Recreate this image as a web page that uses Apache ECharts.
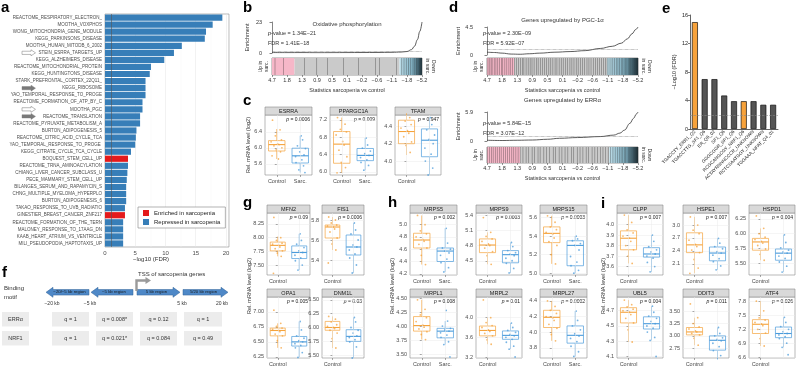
<!DOCTYPE html>
<html>
<head>
<meta charset="utf-8">
<script src="https://cdn.jsdelivr.net/npm/echarts@6/dist/echarts.min.js"></script>
<style>
html,body{margin:0;padding:0;background:#fff;}
#main{width:796px;height:368px;}
</style>
</head>
<body>
<div id="main"></div>
<script>
// ---- panel a : gene set enrichment ----
var setNames = ['REACTOME_RESPIRATORY_ELECTRON_','MOOTHA_VOXPHOS','WONG_MITOCHONDRIA_GENE_MODULE','KEGG_PARKINSONS_DISEASE',
  'MOOTHA_HUMAN_MITODB_6_2002','STEIN_ESRRA_TARGETS_UP','KEGG_ALZHEIMERS_DISEASE','REACTOME_MITOCHONDRIAL_PROTEIN',
  'KEGG_HUNTINGTONS_DISEASE','STARK_PREFRONTAL_CORTEX_22Q11_','KEGG_RIBOSOME','YAO_TEMPORAL_RESPONSE_TO_PROGE',
  'REACTOME_FORMATION_OF_ATP_BY_C','MOOTHA_PGC','REACTOME_TRANSLATION','REACTOME_PYRUVATE_METABOLISM_A',
  'BURTON_ADIPOGENESIS_5','REACTOME_CITRIC_ACID_CYCLE_TCA','YAO_TEMPORAL_RESPONSE_TO_PROGE ','KEGG_CITRATE_CYCLE_TCA_CYCLE',
  'BOQUEST_STEM_CELL_UP','REACTOME_TRNA_AMINOACYLATION','CHIANG_LIVER_CANCER_SUBCLASS_U','PECE_MAMMARY_STEM_CELL_UP',
  'BILANGES_SERUM_AND_RAPAMYCIN_S','CHNG_MULTIPLE_MYELOMA_HYPERPLO','BURTON_ADIPOGENESIS_6','TAKAO_RESPONSE_TO_UVB_RADIATIO',
  'GINESTIER_BREAST_CANCER_ZNF217','REACTOME_FORMATION_OF_THE_TERN','MALONEY_RESPONSE_TO_17AAG_DN','KAAB_HEART_ATRIUM_VS_VENTRICLE',
  'MILI_PSEUDOPODIA_HAPTOTAXIS_UP'];
var setFdr = [19.4,17.8,16.7,16.5,12.7,11.4,9.8,7.6,7.4,6.7,6.7,6.7,6.2,6.2,5.8,5.8,5.2,5.1,5.0,4.3,
  3.8,3.8,3.7,3.6,3.5,3.5,3.5,3.3,3.3,3.0,3.0,3.0,3.0];
var setDir = ['dn','dn','dn','dn','dn','dn','dn','dn','dn','dn','dn','dn','dn','dn','dn','dn','dn','dn','dn','dn',
  'up','dn','dn','dn','dn','dn','dn','dn','up','dn','dn','dn','dn'];
var openArrowRows = [5, 13];
var fillArrowRows = [10, 14];

// ---- panels b, d : barcode plots ----
var statLabels = ['4.7','1.8','1.3','0.9','0.5','0.1','\u22120.2','\u22120.6','\u22121.1','\u22121.8','\u22125.2'];
var oxphosWorm = [[0,0.3],[10,0.25],[20,0.3],[30,0.2],[40,0.25],[50,0.3],[60,0.35],[70,0.4],[80,0.5],[86,0.7],
  [90,1.1],[93,2.5],[95,5],[97,10],[98.5,16],[100,23]];
var oxphosGenes = [2.0,7.6,21.6,29.8,36.9,47.6,57.6,69.1,71.6,83.1,86.5,88,89.5,91,92.5,94,95.2,96.3,97.3,98.2,99,99.6];
var pgcWorm = [[0,0.45],[5,0.4],[10,0.3],[16,0.15],[22,0.12],[28,0.2],[35,0.3],[45,0.45],[55,0.55],[65,0.7],
  [75,1.05],[83,1.4],[89,1.9],[93,2.6],[96,3.4],[98.5,4.1],[100,4.5]];
var pgcGenes = [0.6,1.5,2.7,3.4,4.8,5.9,7.1,8.3,9.6,10.4,11.8,13.1,14.5,15.7,16.9,18.2,19.6,20.8,22.1,23.5,24.4,25.9,
  27.3,28.6,29.8,31.2,32.7,33.9,35.4,36.8,38.1,39.3,40.9,42.2,43.6,45.1,46.3,47.8,49.2,50.5,52.1,53.4,54.9,56.2,57.6,
  59.1,60.4,61.9,63.3,64.6,66.2,67.5,68.9,70.4,71.8,73.1,74.5,75.9,77.2,78.4,79.6,80.8,82.1,83.3,84.4,85.6,86.7,87.8,
  88.9,89.9,90.8,91.7,92.6,93.5,94.3,95.1,95.9,96.6,97.3,97.9,98.5,99.0,99.5,99.9];
var errWorm = [[0,0.15],[10,0.1],[20,0.15],[30,0.2],[40,0.35],[48,0.55],[60,0.7],[75,0.9],[84,1.2],[88,1.6],
  [91,2.2],[94.7,3.6],[97,4.6],[99,5.5],[100,5.9]];
var errGenes = [0.4,1.6,2.9,4.1,5.5,6.8,8.2,9.4,10.9,12.3,13.6,15.0,16.4,17.7,19.1,20.6,22.0,23.8,25.9,27.6,29.9,31.5,
  33.8,35.2,37.6,39.5,41.3,43.9,45.4,47.8,49.6,51.7,53.5,55.9,57.4,59.8,61.6,63.5,65.7,67.3,69.6,71.4,73.2,75.1,76.8,
  78.5,80.3,81.9,83.4,84.9,86.3,87.6,88.8,89.9,90.9,91.8,92.7,93.6,94.4,95.2,95.9,96.6,97.2,97.8,98.3,98.8,99.2,99.6,99.9];

// ---- panel e : motifs ----
var motifNames = ['TGACCTY_ERR1_Q2','TGACCTTG_SF1_Q6','ER_Q6_02','SF1_Q6','GGGCGGR_SP1_Q6','RCGCANGCGY_NRF1_Q6',
  'ACTAYRNNNCCCR_UNKNOWN','RCTCSAATGGY_UNKNOWN','TGGAAA_NFAT_Q4_01'];
var motifFdr = [15.0,7.0,7.0,4.7,3.9,3.9,3.9,3.4,3.4];
var motifHighlight = [1,0,0,0,0,1,0,0,0];

// ---- panel f : promoter regions ----
var regionNames = ['\u221220/\u22125 kb region','\u22125 kb region','5 kb region','5/20 kb region'];
var kbLabels = ['\u221220 kb','\u22125 kb','5 kb','20 kb'];
var motifRows = ['ERR\u03b1','NRF1'];
var qERR = ['q = 1','q = 0.008*','q = 0.12','q = 1'];
var qNRF1 = ['q = 1','q = 0.021*','q = 0.084','q = 0.49'];

// ---- panels c, g, h, i : boxplots [min, Q1, median, Q3, max] ----
var groups = ['Control','Sarc.'];
var geneNames = ['ESRRA','PPARGC1A','TFAM','MFN2','FIS1','OPA1','DNM1L','MRPS5','MRPS9','MRPS15','MRPL1','MRPL2','MRPL27',
  'CLPP','HSPE1','HSPD1','UBL5','DDIT3','ATF4'];
var geneP = ['0.0006','0.009','0.947','0.09','0.0006','0.005','0.03','0.002','0.0003','0.0003','0.008','0.01','0.0002',
  '0.007','0.007','0.004','0.004','0.011','0.026'];
var boxControl = [[5.72,5.92,6.08,6.18,6.47],[5.98,6.2,6.64,6.93,7.25],[4.07,4.2,4.34,4.47,4.55],[7.66,7.76,7.86,7.92,8.02],
  [5.5,5.62,5.73,5.75,5.83],[6.4,6.6,6.69,6.73,6.81],[5.63,5.95,6.0,6.11,6.2],[4.35,4.62,4.75,4.86,5.15],
  [4.43,4.66,4.81,4.93,5.06],[5.1,5.33,5.43,5.5,5.62],[3.76,3.91,4.01,4.17,4.47],[3.46,3.63,3.74,3.83,4.0],
  [3.89,4.06,4.19,4.28,4.4],[3.63,3.76,3.87,3.94,4.09],[1.88,2.36,2.54,2.82,3.19],[5.55,5.72,5.86,5.92,6.09],
  [4.29,4.54,4.68,4.74,4.84],[2.81,3.02,3.08,3.17,3.37],[6.84,7.11,7.31,7.41,7.81]];
var boxSarc = [[5.38,5.62,5.8,5.99,6.3],[6.04,6.26,6.38,6.54,6.78],[3.84,4.05,4.24,4.37,4.5],[7.41,7.62,7.73,7.85,8.07],
  [5.27,5.45,5.53,5.65,5.77],[6.24,6.43,6.5,6.59,6.84],[5.45,5.75,5.84,5.96,6.18],[4.23,4.4,4.57,4.62,4.94],
  [4.26,4.46,4.62,4.7,4.86],[5.0,5.08,5.3,5.35,5.4],[3.67,3.79,3.91,3.96,4.09],[3.36,3.56,3.64,3.73,3.89],
  [3.69,3.86,3.96,4.08,4.27],[3.55,3.69,3.72,3.78,3.9],[1.96,2.17,2.35,2.49,2.69],[5.35,5.55,5.67,5.74,5.98],
  [4.31,4.46,4.53,4.62,4.76],[2.52,2.71,2.91,3.0,3.17],[6.81,7.02,7.11,7.25,7.46]];
var ptsControl = [
  [6.69,6.45,6.3,6.2,6.15,6.1,6.08,6.05,6.0,5.95,5.9,5.8,5.72],
  [7.25,7.1,6.98,6.92,6.85,6.7,6.62,6.5,6.35,6.22,6.1,5.98],
  [4.55,4.5,4.46,4.42,4.38,4.35,4.32,4.28,4.22,4.18,4.1],
  [8.37,8.0,7.95,7.9,7.88,7.86,7.83,7.8,7.76,7.72,7.66,7.35],
  [5.83,5.8,5.77,5.75,5.74,5.73,5.71,5.68,5.62,5.56,5.5,5.37],
  [7.03,6.81,6.76,6.73,6.71,6.69,6.67,6.63,6.6,6.52,6.4],
  [6.2,6.15,6.1,6.05,6.02,6.0,5.98,5.95,5.9,5.8,5.63],
  [5.15,5.0,4.9,4.85,4.8,4.76,4.73,4.68,4.62,4.5,4.35],
  [5.35,5.06,4.98,4.93,4.88,4.83,4.8,4.75,4.68,4.6,4.43],
  [5.62,5.55,5.5,5.47,5.44,5.42,5.38,5.34,5.3,5.2,5.1],
  [4.47,4.3,4.2,4.15,4.08,4.02,3.98,3.95,3.9,3.85,3.76],
  [4.36,4.0,3.9,3.84,3.8,3.75,3.72,3.68,3.63,3.55,3.46],
  [4.4,4.33,4.28,4.24,4.2,4.18,4.15,4.1,4.05,3.97,3.89],
  [4.09,4.02,3.95,3.92,3.89,3.87,3.84,3.8,3.76,3.7,3.63],
  [3.19,3.0,2.88,2.8,2.65,2.55,2.5,2.42,2.36,2.2,2.0,1.88],
  [6.3,6.09,6.0,5.94,5.9,5.87,5.84,5.8,5.74,5.65,5.55],
  [4.84,4.78,4.75,4.72,4.7,4.68,4.65,4.6,4.54,4.45,4.29],
  [3.65,3.37,3.25,3.18,3.14,3.1,3.08,3.05,3.02,2.95,2.81],
  [7.81,7.6,7.45,7.4,7.35,7.32,7.28,7.2,7.12,7.0,6.84]];
var ptsSarc = [
  [6.3,6.2,6.05,5.98,5.9,5.82,5.78,5.7,5.63,5.55,5.45,5.38],
  [6.78,6.62,6.55,6.48,6.42,6.38,6.33,6.28,6.22,6.15,6.04],
  [4.5,4.42,4.36,4.3,4.25,4.2,4.15,4.08,4.0,3.92,3.84],
  [8.07,7.95,7.88,7.82,7.76,7.73,7.68,7.63,7.58,7.5,7.41],
  [5.77,5.7,5.66,5.6,5.55,5.53,5.5,5.46,5.42,5.35,5.27],
  [6.84,6.7,6.6,6.56,6.52,6.5,6.47,6.44,6.4,6.32,6.24],
  [6.18,6.1,6.0,5.95,5.9,5.85,5.82,5.78,5.74,5.65,5.45],
  [4.94,4.7,4.62,4.6,4.57,4.54,4.5,4.44,4.38,4.3,4.23],
  [4.86,4.78,4.7,4.66,4.63,4.6,4.55,4.5,4.45,4.35,4.26],
  [5.4,5.37,5.35,5.32,5.3,5.25,5.18,5.12,5.08,5.03,5.0],
  [4.28,4.09,4.0,3.96,3.93,3.91,3.88,3.84,3.8,3.72,3.67,3.45],
  [3.89,3.8,3.74,3.7,3.66,3.63,3.6,3.56,3.5,3.42,3.36,3.2],
  [4.27,4.15,4.08,4.03,3.98,3.95,3.92,3.88,3.82,3.75,3.69],
  [3.9,3.84,3.79,3.76,3.74,3.72,3.7,3.68,3.64,3.6,3.55],
  [2.69,2.58,2.5,2.45,2.38,2.35,2.3,2.22,2.15,2.05,1.96],
  [5.98,5.85,5.76,5.72,5.69,5.67,5.62,5.58,5.52,5.45,5.35],
  [4.76,4.68,4.63,4.6,4.56,4.53,4.5,4.47,4.42,4.35,4.31,4.1],
  [3.17,3.05,3.0,2.96,2.93,2.9,2.85,2.78,2.7,2.6,2.52],
  [7.46,7.35,7.26,7.2,7.15,7.11,7.08,7.04,7.0,6.9,6.81,6.65]];

// layout of the small multiples (strip top y, plot height, axis range)
var boxLayout = {
  ESRRA:   {x:265, y:107, w:47, h:60, min:5.32, max:6.82, ticks:[5.6,6.0,6.4], dec:1},
  PPARGC1A:{x:330, y:107, w:47, h:60, min:5.93, max:7.31, ticks:[6.0,6.4,6.8,7.2], dec:1},
  TFAM:    {x:395, y:107, w:46, h:60, min:3.84, max:4.53, ticks:[4.0,4.2,4.4], dec:1},
  MFN2:    {x:267, y:205, w:43, h:62, min:7.32, max:8.45, ticks:[7.5,7.75,8.0,8.25], dec:2},
  FIS1:    {x:322, y:205, w:42, h:62, min:5.25, max:5.87, ticks:[5.4,5.6,5.8], dec:1},
  OPA1:    {x:267, y:289, w:43, h:61, min:6.23, max:7.25, ticks:[6.25,6.5,6.75,7.0], dec:2},
  DNM1L:   {x:322, y:289, w:42, h:61, min:5.45, max:6.55, ticks:[5.5,5.75,6.0,6.25,6.5], dec:2},
  MRPS5:   {x:410, y:205, w:47, h:62, min:4.18, max:5.19, ticks:[4.2,4.4,4.6,4.8,5.0], dec:1},
  MRPS9:   {x:476, y:205, w:46, h:62, min:4.22, max:5.44, ticks:[4.5,4.8,5.1,5.4], dec:1},
  MRPS15:  {x:540, y:205, w:47, h:62, min:4.98, max:5.65, ticks:[5.0,5.2,5.4,5.6], dec:1},
  MRPL1:   {x:410, y:289, w:47, h:61, min:3.43, max:4.52, ticks:[3.5,3.75,4.0,4.25,4.5], dec:2},
  MRPL2:   {x:476, y:289, w:46, h:61, min:3.18, max:4.42, ticks:[3.2,3.6,4.0], dec:1},
  MRPL27:  {x:540, y:289, w:47, h:61, min:3.67, max:4.45, ticks:[3.8,4.0,4.2,4.4], dec:1},
  CLPP:    {x:617, y:205, w:46, h:62, min:3.52, max:4.11, ticks:[3.6,3.7,3.8,3.9,4.0], dec:1},
  HSPE1:   {x:683, y:205, w:46, h:62, min:1.84, max:3.28, ticks:[2.1,2.4,2.7,3.0], dec:1},
  HSPD1:   {x:749, y:205, w:46, h:62, min:5.3, max:6.35, ticks:[5.5,5.75,6.0,6.25], dec:2},
  UBL5:    {x:617, y:289, w:46, h:61, min:4.08, max:4.88, ticks:[4.1,4.3,4.5,4.7], dec:1},
  DDIT3:   {x:683, y:289, w:46, h:61, min:2.55, max:3.79, ticks:[2.75,3.0,3.25,3.5], dec:2},
  ATF4:    {x:749, y:289, w:46, h:61, min:6.58, max:7.9, ticks:[6.6,6.9,7.2,7.5,7.8], dec:1}
};
var JIT = [-0.18,0.14,-0.06,0.2,-0.24,0.04,0.1,-0.12,0.22,-0.02,0.16,-0.2,0.07];

var FONT = 'Liberation Sans';
var ORANGE = '#F5A33C', BLUE = '#4A9BDB';
var chart = echarts.init(document.getElementById('main'));
var grids = [], xAxes = [], yAxes = [], series = [], graphics = [];

function addText(x, y, s, o) {
  var st = {text: s, fontSize: 6, fontFamily: FONT, fill: '#222', align: 'left', verticalAlign: 'middle'};
  var rot = 0;
  for (var k in (o || {})) { if (k === 'rotation') rot = o[k]; else st[k] = o[k]; }
  graphics.push({type: 'text', x: x, y: y, rotation: rot, silent: true, style: st});
}
function italicP(x, y, rest, o) {
  var st = Object.assign({rich: {i: {fontStyle: 'italic', fontFamily: FONT, fontSize: (o && o.fontSize) || 5.5, fill: '#222'}}}, o || {});
  addText(x, y, '{i|p}' + rest, st);
}

// ggplot-like box: no whisker caps, thicker median
function renderBox(params, api) {
  var x = api.value(0);
  var bw = api.size([1, 0])[0] * 0.7;
  var pMin = api.coord([x, api.value(1)]), pQ1 = api.coord([x, api.value(2)]), pMed = api.coord([x, api.value(3)]);
  var pQ3 = api.coord([x, api.value(4)]), pMax = api.coord([x, api.value(5)]);
  var col = params.dataIndex === 0 ? ORANGE : BLUE;
  var cx = pMin[0];
  return {type: 'group', children: [
    {type: 'line', shape: {x1: cx, y1: pMin[1], x2: cx, y2: pQ1[1]}, style: {stroke: col, lineWidth: 0.7}},
    {type: 'line', shape: {x1: cx, y1: pQ3[1], x2: cx, y2: pMax[1]}, style: {stroke: col, lineWidth: 0.7}},
    {type: 'rect', shape: {x: cx - bw / 2, y: pQ3[1], width: bw, height: pQ1[1] - pQ3[1]},
      style: {fill: 'rgba(255,255,255,0)', stroke: col, lineWidth: 0.7}},
    {type: 'line', shape: {x1: cx - bw / 2, y1: pMed[1], x2: cx + bw / 2, y2: pMed[1]}, style: {stroke: col, lineWidth: 1.1}}
  ]};
}

// panel letters
[['a',1,0],['b',243,0],['c',243,93],['d',449,0],['e',662,1],['f',2,265],['g',243,195],['h',388,195],['i',601,196]]
  .forEach(function (l) { addText(l[1], l[2], l[0], {fontSize: 15, fontWeight: 'bold', verticalAlign: 'top', fill: '#000'}); });

// ----- panel a -----
grids.push({left: 105, top: 14, width: 124, height: 233, show: true, borderColor: '#8c8c8c', borderWidth: 0.6, backgroundColor: '#fff'});
xAxes.push({gridIndex: 0, type: 'value', min: 0, max: 20.5, interval: 5,
  axisLine: {show: false}, axisTick: {length: 2, lineStyle: {color: '#555', width: 0.5}},
  axisLabel: {fontSize: 6, color: '#4d4d4d', margin: 3, showMaxLabel: false},
  splitLine: {lineStyle: {color: '#e4e4e4', width: 0.5}},
  minorTick: {show: false, splitNumber: 2}, minorSplitLine: {show: true, lineStyle: {color: '#f2f2f2', width: 0.4}}});
yAxes.push({gridIndex: 0, type: 'category', data: setNames, inverse: true,
  axisLine: {show: false}, axisTick: {length: 2, alignWithLabel: true, lineStyle: {color: '#555', width: 0.5}},
  axisLabel: {fontSize: 4.5, color: '#4d4d4d', margin: 3, interval: 0}});
series.push({type: 'bar', name: 'Enriched in sarcopenia', xAxisIndex: 0, yAxisIndex: 0, stack: 'a', barCategoryGap: '12%',
  data: setFdr.map(function (v, i) { return setDir[i] === 'up' ? v : '-'; }), itemStyle: {color: '#E41A1C'}});
series.push({type: 'bar', name: 'Repressed in sarcopenia', xAxisIndex: 0, yAxisIndex: 0, stack: 'a', barCategoryGap: '12%',
  data: setFdr.map(function (v, i) { return setDir[i] === 'dn' ? v : '-'; }), itemStyle: {color: '#377EB8'},
  markLine: {silent: true, symbol: 'none', label: {show: false}, lineStyle: {color: '#555', width: 0.6, type: 'solid'}, data: [{xAxis: 1}]}});
addText(151, 259, '\u2212log10 (FDR)', {align: 'center', fontSize: 6, fill: '#333'});

// ----- panels b / d -----
function barcodePanel(o) {
  var gi = grids.length;
  grids.push({left: o.left, top: o.enrTop, width: o.width, height: o.enrH});
  var xi = xAxes.length;
  xAxes.push({gridIndex: gi, type: 'value', min: 0, max: 100, show: false});
  var yi = yAxes.length;
  yAxes.push({gridIndex: gi, type: 'value', min: 0, max: o.yMax, offset: o.offset,
    axisLine: {show: true, lineStyle: {color: '#333', width: 0.6}},
    axisTick: {show: true, length: 2.5, customValues: [0, o.yMax], lineStyle: {color: '#333', width: 0.6}},
    axisLabel: {customValues: [0, o.yMax], fontSize: 5.5, color: '#333', margin: 2},
    splitLine: {show: false},
    name: 'Enrichment', nameLocation: 'middle', nameGap: 14, nameTextStyle: {fontSize: 5.5, color: '#333'}});
  series.push({type: 'line', xAxisIndex: xi, yAxisIndex: yi, data: o.worm, smooth: 0.4, smoothMonotone: 'x', symbol: 'none',
    lineStyle: {color: '#333', width: 0.8},
    markLine: {silent: true, symbol: 'none', label: {show: false}, lineStyle: {type: 'dotted', color: '#666', width: 0.6}, data: [{yAxis: 1}]}});

  var gb = grids.length;
  grids.push({left: o.left, top: o.barTop, width: o.width, height: o.barH, show: true, borderColor: '#333', borderWidth: 0.5});
  var xb = xAxes.length;
  xAxes.push({gridIndex: gb, type: 'value', min: 0, max: 100, interval: 10,
    axisLine: {show: false}, axisTick: {length: 2, lineStyle: {color: '#333', width: 0.5}},
    axisLabel: {fontSize: 5.5, color: '#333', margin: 2, formatter: function (v) { return statLabels[Math.round(v / 10)]; }},
    splitLine: {show: false},
    name: 'Statistics sarcopenia vs control', nameLocation: 'middle', nameGap: 12, nameTextStyle: {fontSize: 5.5, color: '#333'}});
  var yb = yAxes.length;
  yAxes.push({gridIndex: gb, type: 'value', min: 0, max: 1, axisLine: {show: false}, axisTick: {show: false}, axisLabel: {show: false},
    splitLine: {show: false}, name: 'Up in\nsarc.', nameLocation: 'middle', nameGap: 3, nameRotate: 90,
    nameTextStyle: {fontSize: 5, lineHeight: 5.5, color: '#333'}});
  yAxes.push({gridIndex: gb, type: 'value', position: 'right', min: 0, max: 1, axisLine: {show: false}, axisTick: {show: false},
    axisLabel: {show: false}, splitLine: {show: false}, name: 'Down\nin sarc.', nameLocation: 'middle', nameGap: 3, nameRotate: -90,
    nameTextStyle: {fontSize: 5, lineHeight: 5.5, color: '#333'}});
  series.push({type: 'scatter', xAxisIndex: xb, yAxisIndex: yb, silent: true, data: o.genes.map(function (p) { return [p, 0.5]; }),
    symbol: 'rect', symbolSize: [0.7, o.barH], itemStyle: {color: 'rgba(30,30,30,0.55)'},
    markArea: {silent: true, data: [
      [{xAxis: 0, itemStyle: {color: '#F6B7C8'}}, {xAxis: o.pinkEnd}],
      [{xAxis: o.pinkEnd, itemStyle: {color: '#CACACA'}}, {xAxis: o.blueStart}],
      [{xAxis: o.blueStart, itemStyle: {color: new echarts.graphic.LinearGradient(0, 0, 1, 0, [
        {offset: 0, color: '#BFDFEA'}, {offset: 0.6, color: '#7FB0C3'}, {offset: 1, color: '#24404C'}])}}, {xAxis: 100}]
    ]}});
  addText(o.left + o.width / 2, o.titleY, o.title, {align: 'center', fontSize: 6, fill: '#333'});
  italicP(o.pX, o.pY, '-value = ' + o.pval, {fontSize: 5.5, fill: '#333'});
  addText(o.pX, o.pY + 10, 'FDR = ' + o.fdr, {fontSize: 5.5, fill: '#333'});
}
barcodePanel({left: 272, width: 150, enrTop: 22, enrH: 31, yMax: 23, offset: 8, worm: oxphosWorm, genes: oxphosGenes,
  barTop: 58, barH: 17, pinkEnd: 15, blueStart: 85, title: 'Oxidative phosphorylation', titleY: 24,
  pval: '1.34E\u221221', fdr: '1.41E\u221218', pX: 268, pY: 33});
barcodePanel({left: 487, width: 151, enrTop: 27, enrH: 28, yMax: 4.5, offset: 12, worm: pgcWorm, genes: pgcGenes,
  barTop: 58, barH: 17, pinkEnd: 18, blueStart: 79.5, title: 'Genes upregulated by PGC-1\u03b1', titleY: 20,
  pval: '2.30E\u221209', fdr: '5.92E\u221207', pX: 483, pY: 33});
barcodePanel({left: 487, width: 151, enrTop: 112, enrH: 29, yMax: 5.9, offset: 12, worm: errWorm, genes: errGenes,
  barTop: 147, barH: 16, pinkEnd: 22, blueStart: 81, title: 'Genes upregulated by ERR\u03b1', titleY: 100,
  pval: '5.84E\u221215', fdr: '3.07E\u221212', pX: 483, pY: 123});

// ----- panel e -----
var ge = grids.length;
grids.push({left: 690, top: 15, width: 88, height: 114});
var xe = xAxes.length;
xAxes.push({gridIndex: ge, type: 'category', data: motifNames,
  axisLine: {lineStyle: {color: '#222', width: 0.7}}, axisTick: {length: 2, alignWithLabel: true, lineStyle: {color: '#222', width: 0.6}},
  axisLabel: {rotate: 45, fontSize: 4.6, interval: 0, margin: 2, color: '#222'}});
var ye = yAxes.length;
yAxes.push({gridIndex: ge, type: 'value', min: 0, max: 16, interval: 4,
  axisLine: {show: true, lineStyle: {color: '#222', width: 0.7}}, axisTick: {show: true, length: 2, lineStyle: {color: '#222', width: 0.6}},
  axisLabel: {fontSize: 5.5, color: '#222', margin: 2}, splitLine: {show: false},
  name: '\u2212Log10 (FDR)', nameLocation: 'middle', nameGap: 11, nameTextStyle: {fontSize: 5.5, color: '#222'}});
series.push({type: 'bar', xAxisIndex: xe, yAxisIndex: ye, barWidth: 6,
  data: motifFdr.map(function (v, i) { return {value: v, itemStyle: {color: motifHighlight[i] ? '#F7A23B' : '#555555'}}; }),
  itemStyle: {borderColor: '#111', borderWidth: 0.7},
  markLine: {silent: true, symbol: 'none', label: {show: false}, lineStyle: {type: 'dashed', color: '#888', width: 0.6}, data: [{yAxis: 2}]}});

// ----- boxplot small multiples -----
geneNames.forEach(function (g, k) {
  var L = boxLayout[g];
  var top = L.y + 8;
  var gi = grids.length;
  grids.push({left: L.x, top: top, width: L.w, height: L.h, show: true, borderColor: '#8c8c8c', borderWidth: 0.6, backgroundColor: '#fff'});
  var xc = xAxes.length;
  xAxes.push({gridIndex: gi, type: 'category', data: groups, axisLine: {show: false},
    axisTick: {show: true, length: 2, alignWithLabel: true, lineStyle: {color: '#555', width: 0.5}},
    axisLabel: {fontSize: 5.5, color: '#4d4d4d', margin: 3}, splitLine: {show: false}});
  var xv = xAxes.length;
  xAxes.push({gridIndex: gi, type: 'value', min: -0.5, max: 1.5, show: false});
  var yi = yAxes.length;
  yAxes.push({gridIndex: gi, type: 'value', min: L.min, max: L.max, axisLine: {show: false},
    axisTick: {show: true, length: 2, customValues: L.ticks, lineStyle: {color: '#555', width: 0.5}},
    axisLabel: {customValues: L.ticks, fontSize: 5.5, color: '#4d4d4d', margin: 3,
      formatter: function (v) { return Number(v).toFixed(L.dec); }},
    splitLine: {show: true, lineStyle: {color: '#ebebeb', width: 0.5}}});
  series.push({type: 'line', xAxisIndex: xv, yAxisIndex: yi, data: [], z: 0,
    markLine: {silent: true, symbol: 'none', label: {show: false}, lineStyle: {color: '#ebebeb', width: 0.5, type: 'solid'},
      data: [{xAxis: 0}, {xAxis: 1}]}});
  series.push({type: 'custom', xAxisIndex: xc, yAxisIndex: yi, silent: true, renderItem: renderBox,
    encode: {x: 0, y: [1, 2, 3, 4, 5]},
    data: [[0].concat(boxControl[k]), [1].concat(boxSarc[k])]});
  series.push({type: 'scatter', xAxisIndex: xv, yAxisIndex: yi, silent: true, symbolSize: 1.8, z: 3,
    data: ptsControl[k].map(function (v, i) { return [JIT[i % JIT.length], v]; }), itemStyle: {color: ORANGE, opacity: 0.75}});
  series.push({type: 'scatter', xAxisIndex: xv, yAxisIndex: yi, silent: true, symbolSize: 1.8, z: 3,
    data: ptsSarc[k].map(function (v, i) { return [1 + JIT[(i + 5) % JIT.length], v]; }), itemStyle: {color: BLUE, opacity: 0.75}});
  graphics.push({type: 'rect', silent: true, shape: {x: L.x, y: L.y, width: L.w, height: 8},
    style: {fill: '#D9D9D9', stroke: '#8c8c8c', lineWidth: 0.6}});
  addText(L.x + L.w / 2, L.y + 4.2, g, {align: 'center', fontSize: 5.5, fill: '#1a1a1a'});
  italicP(L.x + L.w - 2, top + 4.5, ' = ' + geneP[k], {align: 'right', fontSize: 5, fill: '#222'});
});
[[248, 145], [249, 286], [392, 286], [603, 286]].forEach(function (p) {
  addText(p[0], p[1], 'Rel. mRNA level (log2)', {align: 'center', fontSize: 5.5, fill: '#333', rotation: Math.PI / 2});
});

// ----- panel f : schematic -----
var arrowSpans = [[46, 89, -1], [91, 133, -1], [137, 180, 1], [183, 228, 1]];
var cy = 292.3;
arrowSpans.forEach(function (a, i) {
  var pts;
  if (a[2] < 0) {
    pts = [[a[0], cy], [a[0] + 7, cy - 5], [a[0] + 7, cy - 2.8], [a[1], cy - 2.8], [a[1], cy + 2.8], [a[0] + 7, cy + 2.8], [a[0] + 7, cy + 5]];
  } else {
    pts = [[a[1], cy], [a[1] - 7, cy - 5], [a[1] - 7, cy - 2.8], [a[0], cy - 2.8], [a[0], cy + 2.8], [a[1] - 7, cy + 2.8], [a[1] - 7, cy + 5]];
  }
  graphics.push({type: 'polygon', silent: true, shape: {points: pts}, style: {fill: '#4E88C7', stroke: '#2F6197', lineWidth: 0.5}});
  addText((a[0] + a[1]) / 2 + a[2] * -2, cy, regionNames[i], {align: 'center', fontSize: 4.3, fill: '#1a1a1a'});
});
graphics.push({type: 'polyline', silent: true, shape: {points: [[136.5, 291], [136.5, 280.5], [146, 280.5]]},
  style: {stroke: '#9A9A9A', lineWidth: 2.4, fill: null}});
graphics.push({type: 'polygon', silent: true, shape: {points: [[145.5, 277], [151, 280.5], [145.5, 284]]}, style: {fill: '#9A9A9A'}});
addText(138, 274, 'TSS of sarcopenia genes', {fontSize: 6, fill: '#333'});
addText(4, 288, 'Binding', {fontSize: 6, fill: '#333'});
addText(4, 297, 'motif', {fontSize: 6, fill: '#333'});
[52, 90, 182, 222].forEach(function (x, i) { addText(x, 304, kbLabels[i], {align: 'center', fontSize: 5, fill: '#333'}); });
var cellX = [[52, 89], [96, 133], [140, 177], [184, 222]];
[[312, qERR], [331, qNRF1]].forEach(function (row, r) {
  graphics.push({type: 'rect', silent: true, shape: {x: 2, y: row[0], width: 27, height: 14.5}, style: {fill: '#ECECEC'}});
  addText(15.5, row[0] + 7.3, motifRows[r], {align: 'center', fontSize: 5.5, fill: '#333'});
  cellX.forEach(function (c, j) {
    graphics.push({type: 'rect', silent: true, shape: {x: c[0], y: row[0], width: c[1] - c[0], height: 14.5}, style: {fill: '#ECECEC'}});
    addText((c[0] + c[1]) / 2, row[0] + 7.3, row[1][j], {align: 'center', fontSize: 5.5, fill: '#333'});
  });
});

chart.setOption({
  animation: false,
  textStyle: {fontFamily: FONT},
  legend: {data: ['Enriched in sarcopenia', 'Repressed in sarcopenia'], orient: 'vertical', left: 138, top: 207,
    selectedMode: false, backgroundColor: '#fff', borderColor: '#7f7f7f', borderWidth: 0.6, padding: [3, 5],
    itemGap: 3, itemWidth: 6, itemHeight: 6, icon: 'rect', textStyle: {fontSize: 6, color: '#222'}},
  grid: grids, xAxis: xAxes, yAxis: yAxes, series: series, graphic: graphics
});

// arrows beside selected gene sets (panel a)
function arrowAt(row, filled) {
  var y = chart.convertToPixel({yAxisIndex: 0}, row);
  var pts = [[22, y - 1.6], [31, y - 1.6], [31, y - 3], [35.5, y], [31, y + 3], [31, y + 1.6], [22, y + 1.6]];
  return {type: 'polygon', silent: true, shape: {points: pts},
    style: filled ? {fill: '#7a7a7a', stroke: '#7a7a7a', lineWidth: 0.4} : {fill: '#fff', stroke: '#8a8a8a', lineWidth: 0.6}};
}
var extra = openArrowRows.map(function (r) { return arrowAt(r, false); })
  .concat(fillArrowRows.map(function (r) { return arrowAt(r, true); }));
chart.setOption({graphic: graphics.concat(extra)});
</script>
</body>
</html>
